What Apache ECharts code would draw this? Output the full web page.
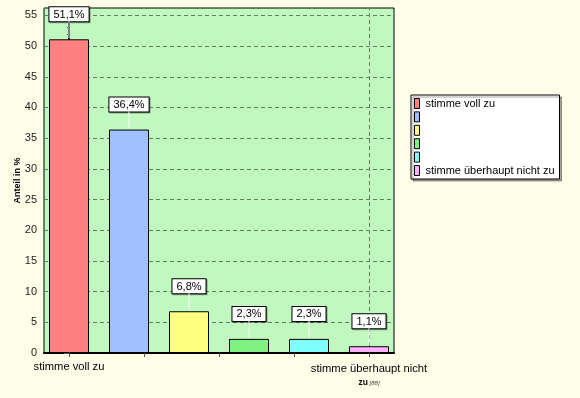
<!DOCTYPE html>
<html>
<head>
<meta charset="utf-8">
<script src="https://cdn.jsdelivr.net/npm/echarts@6/dist/echarts.min.js"></script>
<style>
  html, body { margin: 0; padding: 0; background: #fefee8; }
  #chart { width: 580px; height: 398px; }
</style>
</head>
<body>
<div id="chart"></div>
<script>
var categories = ['stimme voll zu', '2', '3', '4', '5', 'stimme überhaupt nicht zu'];
var values = [51.1, 36.4, 6.8, 2.3, 2.3, 1.1];
var colors = ['#ff8080', '#a0c0ff', '#ffff80', '#80f080', '#80ffff', '#ffb0ff'];
var yTicks = [0, 5, 10, 15, 20, 25, 30, 35, 40, 45, 50, 55];
var xTickPos = [0, 1.25, 2.5, 3.75, 5];
var xLabelPos = [0, 5];

var myChart = echarts.init(document.getElementById('chart'));
var font = 'Liberation Sans, Arial, sans-serif';

function pct(v) {
    return v.toFixed(1).replace('.', ',') + '%';
}

// one bar series per answer so the legend gets one entry each
var series = categories.map(function (name, i) {
    return {
        type: 'bar',
        name: name,
        z: 3,
        barWidth: 40,
        barGap: '-100%',
        data: [[i, values[i]]],
        itemStyle: { color: colors[i], borderColor: '#000', borderWidth: 1 },
        label: {
            show: true,
            position: 'top',
            distance: 18,
            formatter: function (p) { return pct(p.value[1]); },
            fontFamily: font,
            fontSize: 11,
            color: '#000',
            backgroundColor: '#fff',
            borderColor: '#000',
            borderWidth: 1,
            padding: [2, 4, 1, 4],
            shadowColor: 'rgba(0,0,0,0.35)',
            shadowOffsetX: 1,
            shadowOffsetY: 1
        }
    };
});

// white guide lines from bar top up to the label box
series.push({
    type: 'custom',
    name: 'guides',
    z: 4,
    silent: true,
    data: values.map(function (v, i) { return [i, v]; }),
    renderItem: function (params, api) {
        var p = api.coord([api.value(0), api.value(1)]);
        return {
            type: 'line',
            shape: { x1: p[0], y1: p[1] - 1, x2: p[0], y2: p[1] - 18 },
            style: { stroke: '#f6fff6', lineWidth: 1 }
        };
    },
    markLine: {
        silent: true,
        z: 1,
        symbol: 'none',
        label: { show: false },
        lineStyle: { color: '#5f7f5f', type: [4, 3], width: 1 },
        data: [{ xAxis: 5 }]
    }
});

myChart.setOption({
    backgroundColor: '#fefee8',
    animation: false,
    grid: {
        left: 44, top: 8, right: 186, bottom: 45,
        show: true,
        backgroundColor: '#c0f8c0',
        borderColor: '#000',
        borderWidth: 1
    },
    legend: {
        orient: 'vertical',
        left: 411,
        top: 95,
        backgroundColor: '#fff',
        borderColor: '#000',
        borderWidth: 1,
        borderRadius: 0,
        padding: [2, 5, 2, 3],
        shadowColor: 'rgba(0,0,0,0.35)',
        shadowOffsetX: 2,
        shadowOffsetY: 2,
        itemWidth: 5,
        itemHeight: 10,
        itemGap: 0.4,
        itemStyle: { borderColor: '#000', borderWidth: 1 },
        icon: 'rect',
        data: categories,
        formatter: function (n) { return /^\d$/.test(n) ? ' ' : n; },
        textStyle: { fontFamily: font, fontSize: 11, color: '#000', lineHeight: 13, padding: [0, 0, 0, 1] }
    },
    xAxis: {
        type: 'value',
        min: -25 / 60,
        max: 5 + 25 / 60,
        splitLine: { show: false },
        axisLine: { lineStyle: { color: '#000', width: 2 } },
        axisTick: {
            show: true,
            length: 4,
            customValues: xTickPos,
            lineStyle: { color: '#555' }
        },
        axisLabel: {
            customValues: xLabelPos,
            margin: 8,
            fontFamily: font,
            fontSize: 11.2,
            color: '#000',
            formatter: function (v) {
                if (v === 0) return categories[0];
                return '{a|stimme überhaupt nicht}\n{b|zu}{c| [88]}';
            },
            rich: {
                a: { fontFamily: font, fontSize: 11.2, color: '#000', lineHeight: 16 },
                b: { fontFamily: font, fontSize: 8.5, fontWeight: 'bold', color: '#000', lineHeight: 12 },
                c: { fontFamily: font, fontSize: 6, fontStyle: 'italic', color: '#333', lineHeight: 12 }
            }
        }
    },
    yAxis: {
        type: 'value',
        min: 0,
        max: 56.2,
        interval: 5,
        name: 'Anteil in %',
        nameLocation: 'middle',
        nameGap: 22,
        nameMoveOverlap: false,
        nameTextStyle: { fontFamily: font, fontSize: 9, fontWeight: 'bold', color: '#000' },
        axisLine: { show: true, lineStyle: { color: '#000', width: 2 } },
        axisTick: { show: true, length: 5, lineStyle: { color: '#555' } },
        minorTick: { show: true, splitNumber: 5, length: 2, lineStyle: { color: '#555' } },
        axisLabel: {
            margin: 7,
            fontFamily: font,
            fontSize: 11,
            color: '#222',
            formatter: function (v) { return yTicks.indexOf(v) >= 0 ? String(v) : ''; }
        },
        splitLine: { show: true, lineStyle: { color: '#5f7f5f', type: [4, 3], width: 1 } }
    },
    series: series
});
</script>
</body>
</html>
